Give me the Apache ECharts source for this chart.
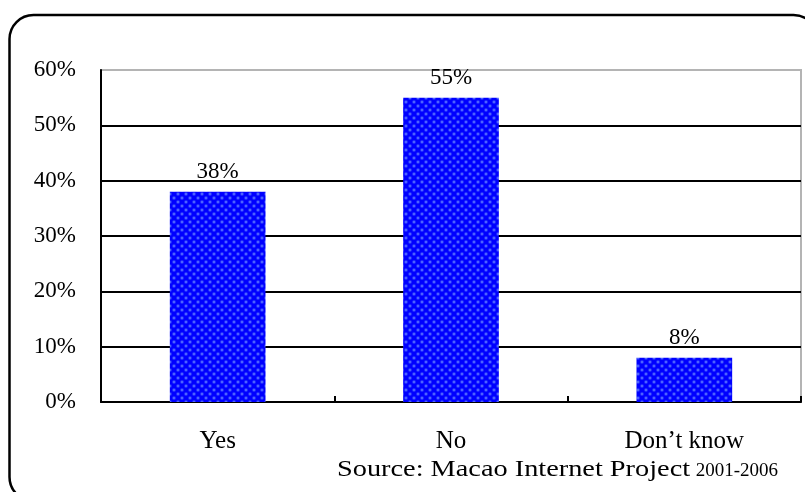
<!DOCTYPE html>
<html>
<head>
<meta charset="utf-8">
<script src="https://cdn.jsdelivr.net/npm/echarts@6/dist/echarts.min.js"></script>
<style>
  html, body { margin: 0; padding: 0; background: #fff; }
  #chart { width: 805px; height: 492px; }
</style>
</head>
<body>
<div id="chart"></div>
<script>
// Survey answers and their shares (%)
const categories = ['Yes', 'No', 'Don\u2019t know'];
const shares = [38, 55, 8];
const yTicks = [0, 10, 20, 30, 40, 50, 60];
const sourceText = 'Source: Macao Internet Project';
const sourceYears = '2001-2006';

// Dotted blue fill used for the bars
function makeDotPattern() {
  const size = 8;
  const c = document.createElement('canvas');
  c.width = size; c.height = size;
  const g = c.getContext('2d');
  g.fillStyle = '#0000ff';
  g.fillRect(0, 0, size, size);
  const dots = [[2, 2], [6, 6]];
  dots.forEach(([x, y]) => {
    const grad = g.createRadialGradient(x, y, 0, x, y, 2.4);
    grad.addColorStop(0, 'rgba(130,160,255,1)');
    grad.addColorStop(1, 'rgba(60,90,255,0)');
    g.fillStyle = grad;
    g.fillRect(x - 3, y - 3, 6, 6);
  });
  return c;
}

const serif = '"Liberation Serif", "Times New Roman", serif';
const chart = echarts.init(document.getElementById('chart'));

chart.setOption({
  animation: false,
  backgroundColor: '#fff',
  grid: {
    left: 101, right: 4, top: 70, bottom: 90,
    show: true, borderColor: '#b4b4b4', borderWidth: 2, backgroundColor: 'transparent'
  },
  xAxis: {
    type: 'category',
    data: categories,
    axisLine: { lineStyle: { color: '#000', width: 2 } },
    axisTick: { show: true, inside: true, length: 6, lineStyle: { color: '#000', width: 2 } },
    axisLabel: { color: '#000', fontFamily: serif, fontSize: 25, margin: 27 }
  },
  yAxis: {
    type: 'value',
    min: yTicks[0],
    max: yTicks[yTicks.length - 1],
    interval: 10,
    axisLine: { show: true, lineStyle: { color: '#000', width: 2 } },
    axisTick: { show: false },
    axisLabel: {
      color: '#000', fontFamily: serif, fontSize: 23, margin: 25,
      formatter: v => v + '%'
    },
    splitLine: { show: true, showMinLine: false, showMaxLine: false, lineStyle: { color: '#000', width: 2 } }
  },
  series: [{
    type: 'bar',
    data: shares,
    barWidth: '41%',
    itemStyle: { color: { image: makeDotPattern(), repeat: 'repeat' } },
    label: {
      show: true, position: 'top', distance: 8,
      color: '#000', fontFamily: serif, fontSize: 23,
      formatter: p => p.value + '%'
    }
  }],
  graphic: [
    {
      type: 'rect', silent: true, z: 100,
      shape: { x: 9.5, y: 15, width: 808, height: 486, r: 24 },
      style: { fill: 'none', stroke: '#000', lineWidth: 2.5 }
    },
    {
      type: 'text', silent: true, z: 100,
      x: 337, y: 470, scaleX: 1.18, scaleY: 1,
      style: {
        text: sourceText, fontFamily: serif, fontSize: 24, fill: '#000',
        verticalAlign: 'middle', align: 'left'
      }
    },
    {
      type: 'text', silent: true, z: 100,
      x: 778, y: 471,
      style: {
        text: sourceYears, fontFamily: serif, fontSize: 19, fill: '#000',
        verticalAlign: 'middle', align: 'right'
      }
    }
  ]
});
</script>
</body>
</html>
